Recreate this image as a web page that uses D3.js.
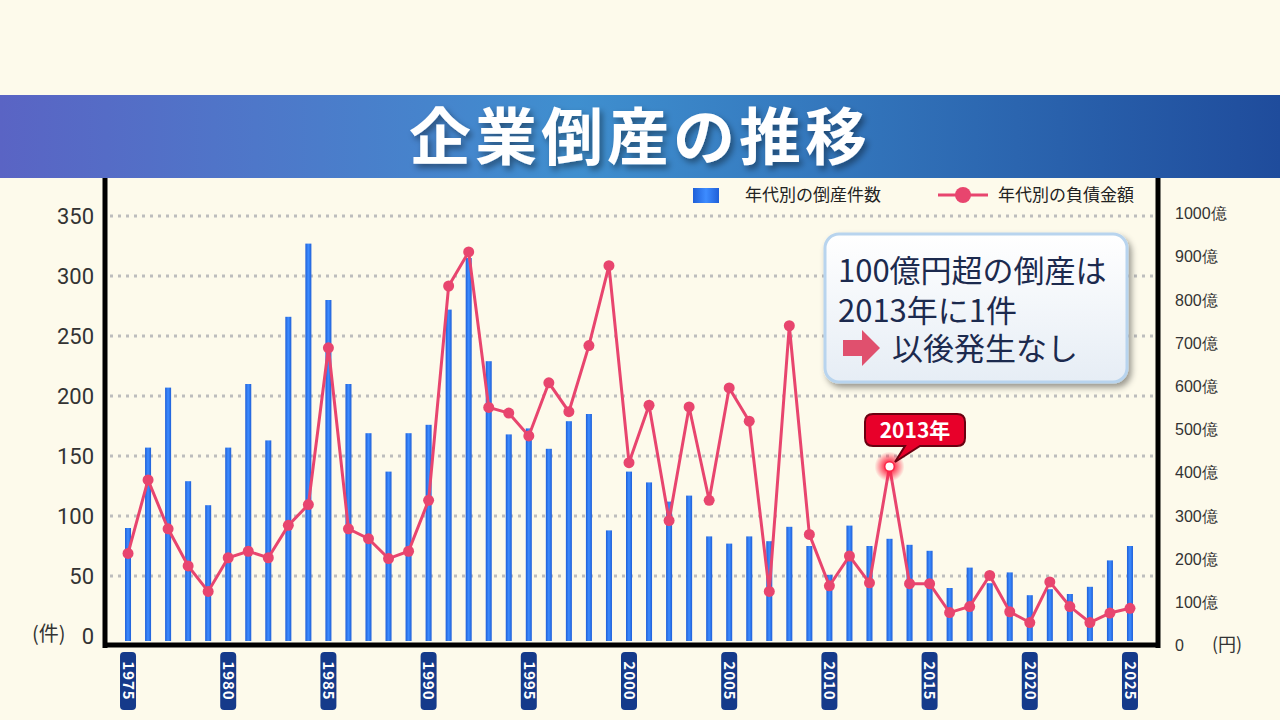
<!DOCTYPE html>
<html><head><meta charset="utf-8">
<script src="https://cdn.jsdelivr.net/npm/d3@7"></script>
<style>body{margin:0;background:#fdfaeb;}svg{display:block;font-family:"Noto Sans CJK JP","Noto Sans",sans-serif;}</style>
</head><body><svg id="c" width="1280" height="720"></svg>
<script>
const years = d3.range(1975, 2026);
const counts = [90,157,207,129,109,157,210,163,266,327,280,210,169,137,169,176,272,315,229,168,173,156,179,185,88,137,
  128,112,117,83,77,83,79,91,75,51,92,75,81,76,71,40,57,44,53,34,39,35,41,63,75];
const debts = [212,382,269,183,124,202,217,202,277,325,688,269,246,200,217,335,831,910,550,537,484,607,540,693,878,422,
  555,288,551,335,595,518,124,739,256,137,206,144,413,142,142,75,89,161,77,52,146,89,52,74,85];
const leftTicks = [0,50,100,150,200,250,300,350];
const rightTicks = [0,100,200,300,400,500,600,700,800,900,1000];
const labelYears = [1975,1980,1985,1990,1995,2000,2005,2010,2015,2020,2025];

const svg = d3.select("#c");
const defs = svg.append("defs");
const hg = defs.append("linearGradient").attr("id","hg");
hg.append("stop").attr("offset","0").attr("stop-color","#5a64c4");
hg.append("stop").attr("offset","0.45").attr("stop-color","#3f8fcf");
hg.append("stop").attr("offset","1").attr("stop-color","#1f4c9c");
const bg = defs.append("linearGradient").attr("id","bg");
bg.append("stop").attr("offset","0").attr("stop-color","#1f5fd8");
bg.append("stop").attr("offset","0.5").attr("stop-color","#3d8cff");
bg.append("stop").attr("offset","1").attr("stop-color","#1f5fd8");
const cg = defs.append("linearGradient").attr("id","cg").attr("x1",0).attr("x2",0).attr("y1",0).attr("y2",1);
cg.append("stop").attr("offset","0").attr("stop-color","#ffffff");
cg.append("stop").attr("offset","1").attr("stop-color","#e6edf5");
const f = defs.append("filter").attr("id","sh").attr("x","-10%").attr("y","-10%").attr("width","130%").attr("height","140%");
f.append("feDropShadow").attr("dx",3).attr("dy",4).attr("stdDeviation",3).attr("flood-color","#000").attr("flood-opacity",0.4);
const gl = defs.append("radialGradient").attr("id","glow");
gl.append("stop").attr("offset","0.3").attr("stop-color","#ff2040").attr("stop-opacity",0.9);
gl.append("stop").attr("offset","1").attr("stop-color","#ff2040").attr("stop-opacity",0);

// header
svg.append("rect").attr("x",0).attr("y",95).attr("width",1280).attr("height",83).attr("fill","url(#hg)");
svg.append("text").attr("x",640).attr("y",160).attr("text-anchor","middle").attr("font-size",62).attr("font-weight",700)
  .attr("fill","#fff").attr("filter","url(#sh)").attr("letter-spacing",4).text("企業倒産の推移");

const x = d3.scaleBand().domain(years).range([118,1140]).paddingInner(0.7).paddingOuter(0.35);
const yL = d3.scaleLinear().domain([0,350]).range([636,216]);
const yR = d3.scaleLinear().domain([0,1000]).range([645,213]);
const cx = d => x(d) + x.bandwidth()/2;

svg.append("g").selectAll("line").data(leftTicks.slice(1)).join("line")
  .attr("x1",110).attr("x2",1155).attr("y1",d=>yL(d)).attr("y2",d=>yL(d))
  .attr("stroke","#bdbdbd").attr("stroke-width",3).attr("stroke-dasharray","3,5");

const gLeft = svg.append("g").attr("transform","translate(94,0)")
  .call(d3.axisLeft(yL).tickValues(leftTicks).tickSize(0).tickPadding(0));
gLeft.select(".domain").remove();
gLeft.selectAll("text").attr("font-size",22).attr("fill","#333").attr("font-family","Roboto,Noto Sans,sans-serif").attr("dy","0.35em");
svg.append("text").attr("x",32).attr("y",641).attr("font-size",20).attr("fill","#333").text("(件)");

const gRight = svg.append("g").attr("transform","translate(1175,0)")
  .call(d3.axisRight(yR).tickValues(rightTicks).tickSize(0).tickPadding(0).tickFormat(d=>d===0?"0":d+"億"));
gRight.select(".domain").remove();
gRight.selectAll("text").attr("font-size",16).attr("fill","#333").attr("dy","0.35em");
svg.append("text").attr("x",1212).attr("y",651).attr("font-size",18).attr("fill","#333").text("(円)");

svg.append("g").selectAll("rect").data(years).join("rect")
  .attr("x",d=>x(d)).attr("width",x.bandwidth()).attr("y",(d,i)=>yL(counts[i]))
  .attr("height",(d,i)=>yL(0)-yL(counts[i])+5).attr("fill","url(#bg)");

svg.append("line").attr("x1",105).attr("x2",105).attr("y1",178).attr("y2",648).attr("stroke","#000").attr("stroke-width",5);
svg.append("line").attr("x1",103).attr("x2",1160).attr("y1",645).attr("y2",645).attr("stroke","#000").attr("stroke-width",5);
svg.append("line").attr("x1",1158).attr("x2",1158).attr("y1",178).attr("y2",648).attr("stroke","#000").attr("stroke-width",5);

const line = d3.line().x((d,i)=>cx(years[i])).y(d=>yR(d));
svg.append("path").datum(debts).attr("d",line).attr("fill","none").attr("stroke","#e8456e").attr("stroke-width",3);
svg.append("g").selectAll("circle").data(debts).join("circle")
  .attr("cx",(d,i)=>cx(years[i])).attr("cy",d=>yR(d)).attr("r",5.5).attr("fill","#e8456e");
const i13 = years.indexOf(2013);
svg.append("circle").attr("cx",cx(2013)).attr("cy",yR(debts[i13])).attr("r",15).attr("fill","url(#glow)");
svg.append("circle").attr("cx",cx(2013)).attr("cy",yR(debts[i13])).attr("r",4).attr("fill","#fff");

const yl = svg.append("g").selectAll("g").data(labelYears).join("g")
  .attr("transform",d=>`translate(${cx(d)},681)`);
yl.append("rect").attr("x",-8).attr("y",-29).attr("width",16).attr("height",58).attr("rx",4).attr("fill","#153a8a");
yl.append("text").attr("transform","rotate(90)").attr("text-anchor","middle").attr("dy","0.35em")
  .attr("font-size",15).attr("font-weight",700).attr("fill","#fff").attr("letter-spacing",1).text(d=>d);

svg.append("rect").attr("x",693).attr("y",188).attr("width",26).attr("height",15).attr("fill","url(#bg)");
svg.append("text").attr("x",745).attr("y",201).attr("font-size",17).attr("fill","#222").text("年代別の倒産件数");
svg.append("line").attr("x1",938).attr("x2",988).attr("y1",195).attr("y2",195).attr("stroke","#e8456e").attr("stroke-width",3);
svg.append("circle").attr("cx",963).attr("cy",195).attr("r",8).attr("fill","#e8456e");
svg.append("text").attr("x",998).attr("y",201).attr("font-size",17).attr("fill","#222").text("年代別の負債金額");

svg.append("rect").attr("x",825).attr("y",234).attr("width",302).attr("height",148).attr("rx",14)
  .attr("fill","url(#cg)").attr("stroke","#b8d4ee").attr("stroke-width",3).attr("filter","url(#sh)");
const ct = svg.append("g").attr("fill","#1c2a4e").attr("font-size",31);
ct.append("text").attr("x",838).attr("y",282).text("100億円超の倒産は");
ct.append("text").attr("x",838).attr("y",322).text("2013年に1件");
ct.append("text").attr("x",892).attr("y",360).text("以後発生なし");
svg.append("path").attr("d","M843,340 L862,340 L862,330 L880,348 L862,366 L862,356 L843,356 Z").attr("fill","#e0506e");

svg.append("path").attr("d","M873,414 L957,414 Q965,414 965,422 L965,438 Q965,446 957,446 L920,446 L895,462 L905,446 L873,446 Q865,446 865,438 L865,422 Q865,414 873,414 Z")
  .attr("fill","#e8002a").attr("stroke","#6a0010").attr("stroke-width",2);
svg.append("text").attr("x",915).attr("y",438).attr("text-anchor","middle").attr("font-size",21).attr("font-weight",700).attr("fill","#fff").text("2013年");
</script></body></html>
